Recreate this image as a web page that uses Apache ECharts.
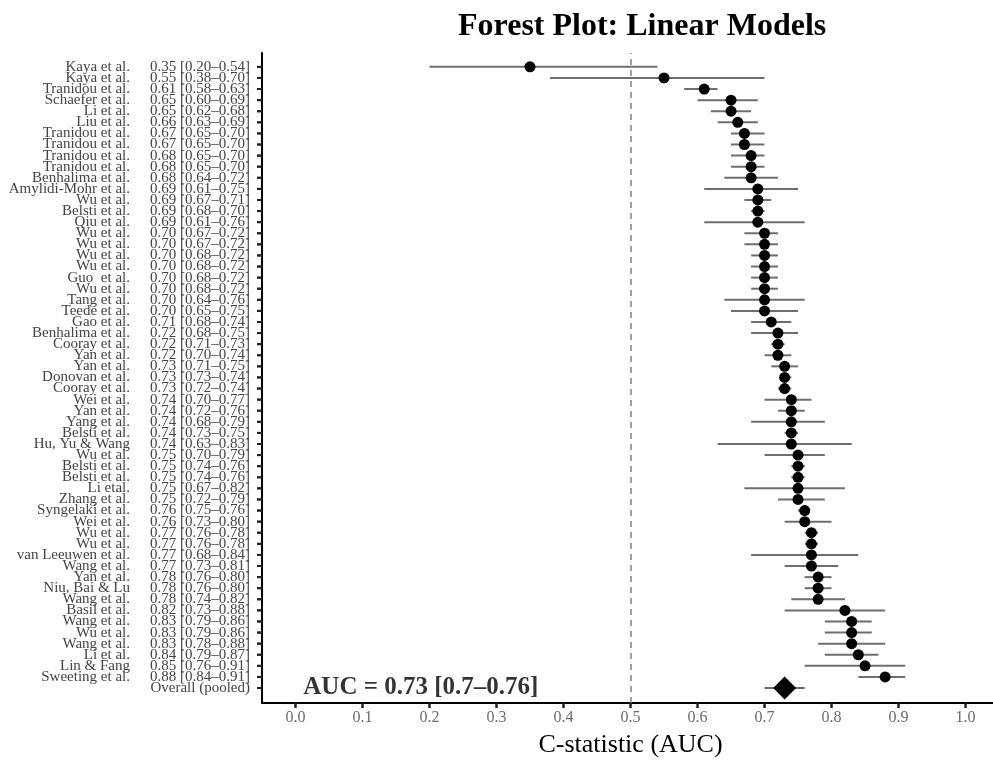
<!DOCTYPE html>
<html>
<head>
<meta charset="utf-8">
<script src="https://cdn.jsdelivr.net/npm/echarts@6/dist/echarts.min.js"></script>
<style>
  html, body { margin: 0; padding: 0; background: #fff; }
  #chart { width: 993px; height: 760px; }
</style>
</head>
<body>
<div id="chart"></div>
<script>
// studies, top to bottom
const studies = [
  'Kaya et al.', 'Kaya et al.', 'Tranidou et al.', 'Schaefer et al.', 'Li et al.', 'Liu et al.',
  'Tranidou et al.', 'Tranidou et al.', 'Tranidou et al.', 'Tranidou et al.', 'Benhalima et al.',
  'Amylidi-Mohr et al.', 'Wu et al.', 'Belsti et al.', 'Qiu et al.', 'Wu et al.', 'Wu et al.',
  'Wu et al.', 'Wu et al.', 'Guo  et al.', 'Wu et al.', 'Tang et al.', 'Teede et al.', 'Gao et al.',
  'Benhalima et al.', 'Cooray et al.', 'Yan et al.', 'Yan et al.', 'Donovan et al.', 'Cooray et al.',
  'Wei et al.', 'Yan et al.', 'Yang et al.', 'Belsti et al.', 'Hu, Yu & Wang', 'Wu et al.',
  'Belsti et al.', 'Belsti et al.', 'Li etal.', 'Zhang et al.', 'Syngelaki et al.', 'Wei et al.',
  'Wu et al.', 'Wu et al.', 'van Leeuwen et al.', 'Wang et al.', 'Yan et al.', 'Niu, Bai & Lu',
  'Wang et al.', 'Basil et al.', 'Wang et al.', 'Wu et al.', 'Wang et al.', 'Li et al.',
  'Lin & Fang', 'Sweeting et al.'
]
const auc = [
  0.35, 0.55, 0.61, 0.65, 0.65, 0.66, 0.67, 0.67, 0.68, 0.68, 0.68,
  0.69, 0.69, 0.69, 0.69, 0.70, 0.70, 0.70, 0.70, 0.70, 0.70, 0.70, 0.70, 0.71,
  0.72, 0.72, 0.72, 0.73, 0.73, 0.73, 0.74, 0.74, 0.74, 0.74, 0.74, 0.75,
  0.75, 0.75, 0.75, 0.75, 0.76, 0.76, 0.77, 0.77, 0.77, 0.77, 0.78, 0.78,
  0.78, 0.82, 0.83, 0.83, 0.83, 0.84, 0.85, 0.88
]
const lower = [
  0.20, 0.38, 0.58, 0.60, 0.62, 0.63, 0.65, 0.65, 0.65, 0.65, 0.64,
  0.61, 0.67, 0.68, 0.61, 0.67, 0.67, 0.68, 0.68, 0.68, 0.68, 0.64, 0.65, 0.68,
  0.68, 0.71, 0.70, 0.71, 0.73, 0.72, 0.70, 0.72, 0.68, 0.73, 0.63, 0.70,
  0.74, 0.74, 0.67, 0.72, 0.75, 0.73, 0.76, 0.76, 0.68, 0.73, 0.76, 0.76,
  0.74, 0.73, 0.79, 0.79, 0.78, 0.79, 0.76, 0.84
]
const upper = [
  0.54, 0.70, 0.63, 0.69, 0.68, 0.69, 0.70, 0.70, 0.70, 0.70, 0.72,
  0.75, 0.71, 0.70, 0.76, 0.72, 0.72, 0.72, 0.72, 0.72, 0.72, 0.76, 0.75, 0.74,
  0.75, 0.73, 0.74, 0.75, 0.74, 0.74, 0.77, 0.76, 0.79, 0.75, 0.83, 0.79,
  0.76, 0.76, 0.82, 0.79, 0.76, 0.80, 0.78, 0.78, 0.84, 0.81, 0.80, 0.80,
  0.82, 0.88, 0.86, 0.86, 0.88, 0.87, 0.91, 0.91
]
const pooled = { label: 'Overall (pooled)', auc: 0.73, lower: 0.70, upper: 0.76, text: 'AUC = 0.73 [0.7–0.76]' }
const xTicks = [0, 0.1, 0.2, 0.3, 0.4, 0.5, 0.6, 0.7, 0.8, 0.9, 1.0]

const n = studies.length
// row value: first study at top, pooled at 0
const rowY = i => n - i
const fmt = v => v.toFixed(2)

const labelText = {}
studies.forEach((s, i) => {
  labelText[rowY(i)] = { name: s, est: fmt(auc[i]) + ' [' + fmt(lower[i]) + '–' + fmt(upper[i]) + ']' }
})
labelText[0] = { name: '', est: pooled.label }
const rows = Object.keys(labelText).map(Number)

const ciData = studies.map((s, i) => [lower[i], upper[i], rowY(i)])
ciData.push([pooled.lower, pooled.upper, 0])
const pointData = studies.map((s, i) => [auc[i], rowY(i)])

// panel geometry and data ranges
const W = 993, H = 760
const panel = { left: 262, right: 0, top: 53, bottom: 57 }
const xRange = [-0.05, 1.041]
const yRange = [-1.35, n + 1.25]
const tickLen = 5
const pw = W - panel.left - panel.right
const ph = H - panel.top - panel.bottom
const pxX = pw / (xRange[1] - xRange[0])
const pxY = ph / (yRange[1] - yRange[0])
const yPix = v => panel.top + (yRange[1] - v) * pxY

// helper strips that only carry the axis labels
const gridOpts = { outerBoundsMode: 'none', containLabel: false }
const xLabelGrid = Object.assign({
  left: panel.left + (0 - xRange[0]) * pxX, width: pxX,
  top: H - panel.bottom - 1, height: 1
}, gridOpts)
// one row wider on each side, so the end rows are not min/max labels
const yLabelGrid = Object.assign({
  left: panel.left, width: 1,
  top: yPix(n + 1), bottom: H - yPix(-1)
}, gridOpts)

const serif = 'Liberation Serif'
const tickColor = '#222'
const tickStyle = { stroke: tickColor, lineWidth: 2 }
const chart = echarts.init(document.getElementById('chart'), null, { renderer: 'canvas' })

chart.setOption({
  backgroundColor: '#fff',
  animation: false,
  title: {
    text: 'Forest Plot: Linear Models',
    left: 453,
    top: 6,
    textStyle: { fontFamily: serif, fontSize: 32, fontWeight: 'bold', color: '#000' }
  },
  grid: [
    Object.assign({}, panel, gridOpts),
    xLabelGrid,
    yLabelGrid
  ],
  xAxis: [
    {
      gridIndex: 0,
      type: 'value',
      min: xRange[0],
      max: xRange[1],
      axisLine: { show: true, onZero: false, lineStyle: { color: '#000', width: 2 } },
      axisTick: { show: false },
      axisLabel: { show: false },
      splitLine: { show: false }
    },
    {
      gridIndex: 1,
      type: 'value',
      min: 0,
      max: 1,
      interval: 0.1,
      name: 'C-statistic (AUC)',
      nameLocation: 'middle',
      nameGap: 29,
      nameTextStyle: { fontFamily: serif, fontSize: 26, color: '#000' },
      axisLine: { show: false, onZero: false },
      axisTick: { show: false },
      axisLabel: {
        margin: 0,
        formatter: v => '{t|}\n{v|' + v.toFixed(1) + '}',
        rich: {
          t: { width: 2, height: tickLen, lineHeight: tickLen, backgroundColor: tickColor },
          v: { fontFamily: serif, fontSize: 16, color: '#6b6b6b', lineHeight: 20 }
        }
      },
      splitLine: { show: false }
    },
    { gridIndex: 2, type: 'value', show: false }
  ],
  yAxis: [
    {
      gridIndex: 0,
      type: 'value',
      min: yRange[0],
      max: yRange[1],
      axisLine: { show: true, onZero: false, lineStyle: { color: '#000', width: 2 } },
      axisTick: { show: false },
      axisLabel: { show: false },
      splitLine: { show: false }
    },
    { gridIndex: 1, type: 'value', show: false },
    {
      gridIndex: 2,
      type: 'value',
      min: -1,
      max: n + 1,
      interval: 1,
      axisLine: { show: false, onZero: false },
      axisTick: { show: false },
      splitLine: { show: false },
      axisLabel: {
        margin: 0,
        hideOverlap: false,
        formatter: v => {
          const t = labelText[Math.round(v)]
          return t ? '{n|' + t.name + '}{e|' + t.est + '}{s|}{t|}' : ''
        },
        rich: {
          n: { fontFamily: serif, fontSize: 15, color: '#444', width: 126, align: 'right', padding: [0, 18, 0, 0], lineHeight: 10 },
          e: { fontFamily: serif, fontSize: 15, color: '#444', width: 102, align: 'right', lineHeight: 10 },
          s: { width: 7, lineHeight: 10 },
          t: { width: tickLen, height: 2, lineHeight: 10, backgroundColor: tickColor }
        }
      }
    }
  ],
  series: [
    {
      // x-axis tick marks below the panel
      type: 'custom',
      name: 'xticks',
      xAxisIndex: 0,
      yAxisIndex: 0,
      clip: false,
      silent: true,
      renderItem: (params, api) => {
        const p = api.coord([api.value(0), api.value(1)])
        return { type: 'line', shape: { x1: p[0], y1: p[1], x2: p[0], y2: p[1] + tickLen }, style: tickStyle }
      },
      encode: { x: 0, y: 1 },
      data: xTicks.map(v => [v, yRange[0]]),
      z: 1
    },
    {
      // y-axis tick marks left of the panel
      type: 'custom',
      name: 'yticks',
      xAxisIndex: 0,
      yAxisIndex: 0,
      clip: false,
      silent: true,
      renderItem: (params, api) => {
        const p = api.coord([api.value(0), api.value(1)])
        return { type: 'line', shape: { x1: p[0], y1: p[1], x2: p[0] - tickLen, y2: p[1] }, style: tickStyle }
      },
      encode: { x: 0, y: 1 },
      data: rows.map(r => [xRange[0], r]),
      z: 1
    },
    {
      type: 'custom',
      name: 'ci',
      xAxisIndex: 0,
      yAxisIndex: 0,
      renderItem: (params, api) => {
        const a = api.coord([api.value(0), api.value(2)])
        const b = api.coord([api.value(1), api.value(2)])
        return {
          type: 'line',
          shape: { x1: a[0], y1: a[1], x2: b[0], y2: b[1] },
          style: { stroke: '#6e6e6e', lineWidth: 2 }
        }
      },
      encode: { x: [0, 1], y: 2 },
      data: ciData,
      z: 2,
      markLine: {
        silent: true,
        symbol: 'none',
        label: { show: false },
        lineStyle: { color: '#808080', type: [6, 5], width: 1.5 },
        data: [{ xAxis: 0.5 }]
      }
    },
    {
      type: 'scatter',
      name: 'studies',
      xAxisIndex: 0,
      yAxisIndex: 0,
      symbol: 'circle',
      symbolSize: 11,
      itemStyle: { color: '#000', opacity: 1 },
      data: pointData,
      z: 3
    },
    {
      type: 'scatter',
      name: 'pooled',
      xAxisIndex: 0,
      yAxisIndex: 0,
      symbol: 'diamond',
      symbolSize: 23,
      itemStyle: { color: '#000', opacity: 1 },
      data: [[pooled.auc, 0]],
      z: 3
    },
    {
      type: 'scatter',
      name: 'annotation',
      xAxisIndex: 0,
      yAxisIndex: 0,
      symbolSize: 0,
      data: [[0.187, 0]],
      label: {
        show: true,
        position: 'inside',
        formatter: pooled.text,
        fontFamily: serif, fontSize: 25, fontWeight: 'bold', color: '#000'
      },
      z: 4
    }
  ]
})
</script>
</body>
</html>
